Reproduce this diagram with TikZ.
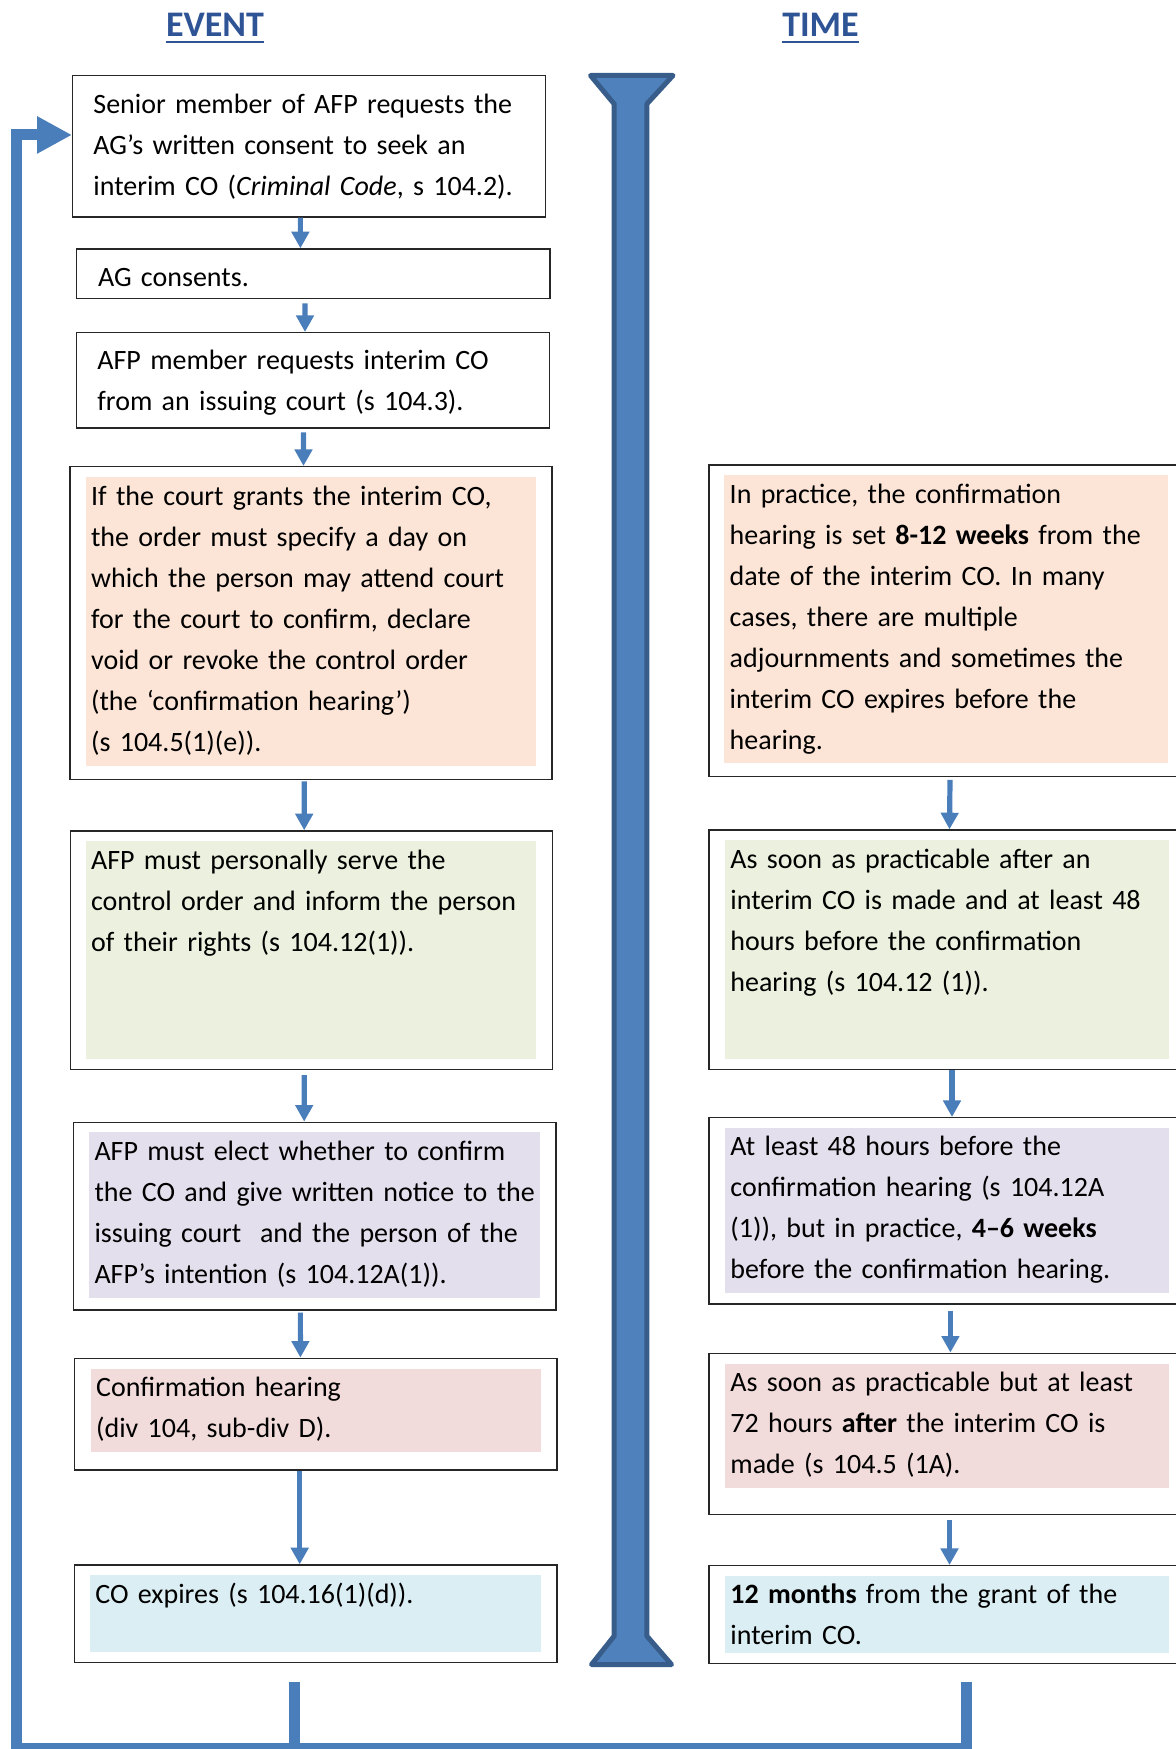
\documentclass[tikz,border=0pt]{standalone}
\usepackage{fontspec}
\setmainfont{Carlito}
\usetikzlibrary{arrows.meta,fit}
\definecolor{arrblue}{RGB}{74,126,187}
\definecolor{tlfill}{RGB}{79,129,189}
\definecolor{tlstroke}{RGB}{56,93,138}
\definecolor{headblue}{RGB}{47,84,150}
\definecolor{cpeach}{RGB}{252,229,214}
\definecolor{cgreen}{RGB}{235,241,222}
\definecolor{clav}{RGB}{228,223,236}
\definecolor{cpink}{RGB}{242,220,219}
\definecolor{cblue}{RGB}{219,238,243}
\newcommand{\flowbox}[5]{\node[box, fit={(#2,#3) (#4,#5)}] (#1) {};}
\begin{document}
\begin{tikzpicture}[x=0.5pt,y=-0.5pt,
  box/.style={draw=black!85, line width=0.7pt, fill=white, inner sep=0pt},
  txt/.style={anchor=base west, inner sep=0pt, align=left, text width=245pt,
    font=\fontsize{14}{20.5}\selectfont},
  head/.style={anchor=base, inner sep=0pt, text=headblue,
    font=\fontsize{18}{22}\selectfont\bfseries},
  flow/.style={draw=arrblue, line width=2.6pt, -{Triangle[width=8.6pt,length=8.3pt]}},
  fb/.style={draw=arrblue, line width=5.5pt, line join=miter}]
\useasboundingbox (0,0) rectangle (1176,1749);

% headings
\node[head] (ev) at (215,36.7) {EVENT};
\node[head] (tm) at (820.5,36.7) {TIME};
\draw[headblue, line width=1.3pt] ([yshift=-2.65pt]ev.base west) -- ([yshift=-2.65pt]ev.base east);
\draw[headblue, line width=1.3pt] ([yshift=-2.65pt]tm.base west) -- ([yshift=-2.65pt]tm.base east);

% timeline
\filldraw[fill=tlfill, draw=tlstroke, line width=2.5pt, line join=round]
  (590.5,75.5) -- (673,75.5) -- (646.8,104) -- (646.8,1636) -- (671.5,1664.5)
  -- (591.5,1664.5) -- (614.2,1636) -- (614.2,104) -- cycle;

% left boxes
\flowbox{b1}{72.7}{75.7}{545.4}{217}
\flowbox{b2}{76.5}{249}{550}{298.7}
\flowbox{b3}{76.5}{332.7}{549.5}{428}
\flowbox{b4}{70}{466.7}{551.9}{779.3}
\fill[cpeach] (86.1,477.3) rectangle (535.8,765.7);
\flowbox{b5}{70.4}{831}{552.2}{1069.3}
\fill[cgreen] (86,841) rectangle (536,1059.3);
\flowbox{b6}{73.5}{1122.3}{556}{1310}
\fill[clav] (89.2,1132.3) rectangle (539.6,1297.7);
\flowbox{b7}{74.6}{1358.3}{556.8}{1470}
\fill[cpink] (91,1369.3) rectangle (540.8,1451.7);
\flowbox{b8}{74.6}{1565}{557}{1662.4}
\fill[cblue] (90,1575) rectangle (540.8,1651.7);

% right boxes
\flowbox{r1}{709}{465}{1190}{776.7}
\fill[cpeach] (724,475) rectangle (1168.3,763.3);
\flowbox{r2}{709}{830}{1190}{1069.3}
\fill[cgreen] (725,840) rectangle (1169,1059.3);
\flowbox{r3}{709}{1117.7}{1190}{1304}
\fill[clav] (725,1127.7) rectangle (1169,1293);
\flowbox{r4}{709}{1353.3}{1190}{1514.3}
\fill[cpink] (725,1364) rectangle (1169,1487.7);
\flowbox{r5}{709}{1565.7}{1190}{1663.3}
\fill[cblue] (725,1576) rectangle (1169,1652.7);

% texts left
\node[txt] (t1) at (93,113.3) {Senior member of AFP requests the\\AG’s written consent to seek an\\interim CO (\textit{Criminal Code}, s 104.2).};
\node[txt] (t2) at (97.6,286.7) {AG consents.};
\node[txt] (t3) at (97,370) {AFP member requests interim CO\\from an issuing court (s 104.3).};
\node[txt] (t4) at (90.7,505) {If the court grants the interim CO,\\the order must specify a day on\\which the person may attend court\\for the court to confirm, declare\\void or revoke the control order\\(the ‘confirmation hearing’)\\(s 104.5(1)(e)).};
\node[txt] (t5) at (90.7,869.3) {AFP must personally serve the\\control order and inform the person\\of their rights (s 104.12(1)).};
\node[txt] (t6) at (94.1,1160) {AFP must elect whether to confirm\\the CO and give written notice to the\\issuing court\ \ and the person of the\\AFP’s intention (s 104.12A(1)).};
\node[txt] (t7) at (95.7,1396) {Confirmation hearing\\(div 104, sub-div D).};
\node[txt] (t8) at (95,1603.3) {CO expires (s 104.16(1)(d)).};

% texts right
\node[txt] (s1) at (729.3,503.3) {In practice, the confirmation\\hearing is set \textbf{8-12 weeks} from the\\date of the interim CO. In many\\cases, there are multiple\\adjournments and sometimes the\\interim CO expires before the\\hearing.};
\node[txt] (s2) at (730,868.3) {As soon as practicable after an\\interim CO is made and at least 48\\hours before the confirmation\\hearing (s 104.12 (1)).};
\node[txt] (s3) at (730,1155) {At least 48 hours before the\\confirmation hearing (s 104.12A\\(1)), but in practice, \textbf{4–6 weeks}\\before the confirmation hearing.};
\node[txt] (s4) at (730,1391.7) {As soon as practicable but at least\\72 hours \textbf{after} the interim CO is\\made (s 104.5 (1A).};
\node[txt] (s5) at (730,1603.3) {\textbf{12 months} from the grant of the\\interim CO.};

% left arrows
\draw[flow] ([xshift=-4.33pt]b1.south) -- ([xshift=-6.43pt]b2.north);
\draw[flow] ([xshift=-4.13pt,yshift=-2pt]b2.south) -- ([xshift=-4pt]b3.north);
\draw[flow] ([xshift=-4.75pt,yshift=-1.8pt]b3.south) -- ([xshift=-3.73pt]b4.north);
\draw[flow] ([xshift=-3.38pt,yshift=-0.7pt]b4.south) -- ([xshift=-3.55pt]b5.north);
\draw[flow] ([xshift=-3.55pt,yshift=-2.5pt]b5.south) -- ([xshift=-5.28pt]b6.north);
\draw[flow] ([xshift=-7.18pt,yshift=-1pt]b6.south) -- ([xshift=-7.65pt]b7.north);
\draw[flow] ([xshift=-8pt]b7.south) -- ([xshift=-8.05pt]b8.north);

% right arrows
\draw[flow] ([xshift=0.25pt,yshift=-1.2pt]r1.south) -- ([xshift=0pt]r2.north);
\draw[flow] ([xshift=1.25pt]r2.south) -- ([xshift=1.25pt]r3.north);
\draw[flow] ([xshift=0.45pt,yshift=-3pt]r3.south) -- ([xshift=0.45pt]r4.north);
\draw[flow] ([xshift=0pt,yshift=-2.5pt]r4.south) -- ([xshift=0pt]r5.north);

% feedback loop
\coordinate (d1) at (294,1682);
\coordinate (d2) at (966,1682);
\draw[fb, -{Triangle[width=17.5pt,length=17.5pt]}] (d2) -- (966,1748) -- (16.5,1748) |- ([yshift=5.7pt]b1.west);
\draw[fb] (d1) -- (294,1748);
\end{tikzpicture}
\end{document}
